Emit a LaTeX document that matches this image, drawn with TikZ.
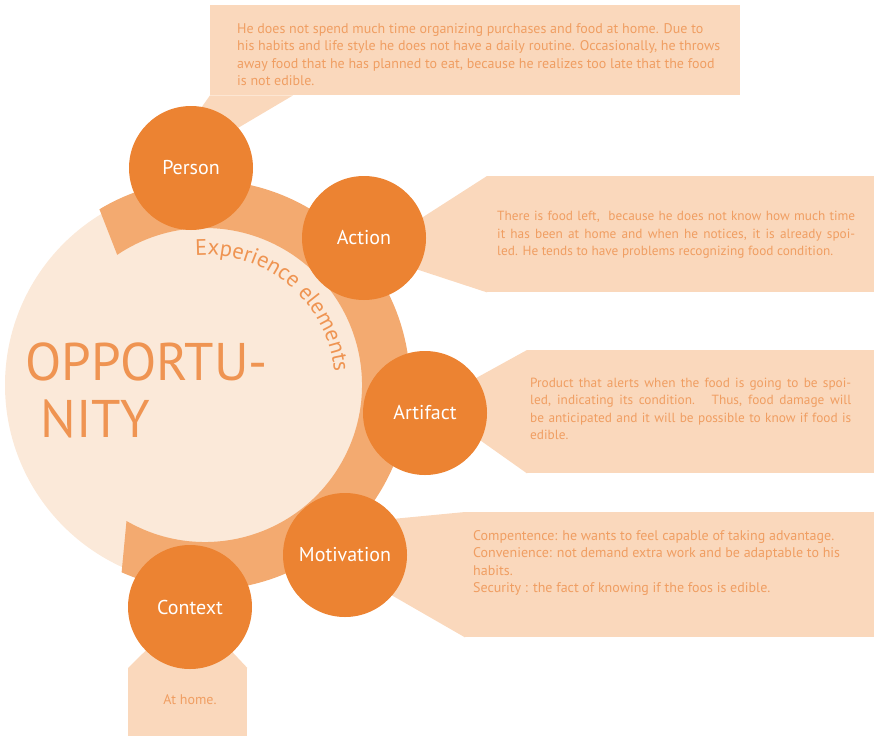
\documentclass[tikz,border=0pt]{standalone}
\usepackage{fontspec}
\setmainfont{PT Sans}
\usetikzlibrary{calc,positioning,decorations.text}

\definecolor{oppfill}{RGB}{251,233,217}
\definecolor{ringcol}{RGB}{243,170,112}
\definecolor{elemcol}{RGB}{236,131,50}
\definecolor{boxcol}{RGB}{250,216,188}
\definecolor{calltext}{RGB}{240,158,98}
\definecolor{opptext}{RGB}{239,148,82}

\newcommand{\callfont}{\fontsize{14}{17.5}\selectfont}
\newcommand{\smallcallfont}{\fontsize{13.3}{17.5}\selectfont}
\newcommand{\spread}[2]{\makebox[#1][s]{#2}}

\begin{document}
\begin{tikzpicture}[x=1pt, y=1pt,
    elem/.style={circle, fill=elemcol, minimum size=124pt, inner sep=0pt, text=white, font=\fontsize{20}{20}\selectfont},
    callbox/.style={rectangle, fill=boxcol, inner sep=0pt, anchor=north west},
    calltxt/.style={anchor=west, inner sep=0pt, align=left, text=calltext, font=\callfont}
]
\useasboundingbox (0,0) rectangle (874,-736);
\coordinate (ctr) at (205,-385);

% opportunity disc and ring
\fill[oppfill] (ctr) circle[radius=200pt];
\fill[ringcol] ($(ctr)+(121:205)$) arc[start angle=121, end angle=-114, radius=205pt]
  -- ($(ctr)+(-120:157)$) arc[start angle=-120, end angle=124, radius=157pt] -- cycle;

\node[anchor=north west, inner sep=0pt, align=left, text=opptext, font=\fontsize{53}{57}\selectfont] (opp) at (25.5,-343) {OPPORTU-\\\hspace*{15pt}NITY};
\path[decorate, decoration={text along path, text={|\fontsize{22.5}{22.5}\selectfont|Experience elements}, text align=center, text color=opptext}]
  ($(ctr)+(102:130)$) arc[start angle=102, end angle=-2, radius=130pt];

% callout boxes
\node[callbox, minimum width=530pt, minimum height=90pt] (personbox) at (210,-5) {};
\node[callbox, minimum width=387pt, minimum height=116pt] (actionbox) at (487,-176) {};
\node[callbox, minimum width=347pt, minimum height=123pt] (artifactbox) at (527,-350) {};
\node[callbox, minimum width=409pt, minimum height=125pt] (motivationbox) at (465,-512) {};
\node[callbox, minimum width=119pt, minimum height=68pt] (contextbox) at (128,-668) {};

% pointers
\coordinate (persontip) at (150,-180);
\coordinate (actiontip) at (367,-253);
\coordinate (artifacttip) at (429,-404);
\coordinate (motivtipa) at (340,-524);
\coordinate (motivtipb) at (360,-577);
\coordinate (contexttip) at (190,-607);
\fill[boxcol] (personbox.south west) -- ++(83,0) -- (persontip) -- cycle;
\fill[boxcol] (actionbox.north west) -- (actionbox.south west) -- (actiontip) -- cycle;
\fill[boxcol] (artifactbox.north west) -- (artifactbox.south west) -- (artifacttip) -- cycle;
\fill[boxcol] (motivationbox.north west) -- (motivtipa) -- (motivtipb) -- (motivationbox.south west) -- cycle;
\fill[boxcol] (contextbox.north west) -- (contexttip) -- (contextbox.north east) -- cycle;

% experience elements
\node[elem] (person) at (191,-168) {Person};
\node[elem] (action) at (364,-238) {Action};
\node[elem] (artifact) at (425,-413) {Artifact};
\node[elem] (motivation) at (345,-555) {Motivation};
\node[elem] (context) at (contexttip) {Context};

% callout texts
\node[calltxt] (persontxt) at (237,-54.5) {He does not spend much time organizing purchases and food at home. Due to\\his habits and life style he does not have a daily routine. Occasionally, he throws\\away food that he has planned to eat, because he realizes too late that the food\\is not edible.};
\node[calltxt, font=\smallcallfont] (actiontxt) at (497,-235) {\spread{358pt}{There is food left, \ because he does not know how much time}\\\spread{358pt}{it has been at home and when he notices, it is already spoi-}\\led. He tends to have problems recognizing food condition.};
\node[calltxt, font=\smallcallfont] (artifacttxt) at (530,-409) {\spread{321pt}{Product that alerts when the food is going to be spoi-}\\\spread{321pt}{led, indicating its condition. \ Thus, food damage will}\\\spread{321pt}{be anticipated and it will be possible to know if food is}\\edible.};
\node[calltxt] (motivationtxt) at (473,-563) {Compentence: he wants to feel capable of taking advantage.\\Convenience: not demand extra work and be adaptable to his\\habits.\\Security : the fact of knowing if the foos is edible.};
\node[calltxt, anchor=center] (contexttxt) at (190,-700) {At home.};
\end{tikzpicture}
\end{document}
